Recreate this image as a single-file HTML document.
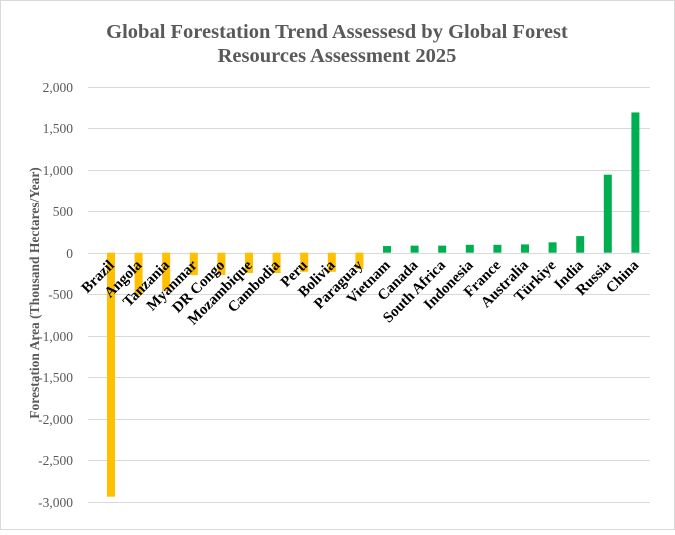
<!DOCTYPE html>
<html><head><meta charset="utf-8"><style>body{margin:0;background:#fff}</style></head><body>
<svg width="675" height="530" xmlns="http://www.w3.org/2000/svg" font-family="Liberation Serif, serif">
<rect x="0.5" y="0.5" width="674" height="529" fill="#fff" stroke="#d9d9d9"/>
<text x="337" y="38" text-anchor="middle" font-size="20.5" font-weight="bold" fill="#595959">Global Forestation Trend Assessesd by Global Forest</text>
<text x="337" y="62" text-anchor="middle" font-size="20.5" font-weight="bold" fill="#595959">Resources Assessment 2025</text>
<g id="grid" stroke="#d9d9d9" stroke-width="1"></g>
<g id="yl" font-size="13.5" fill="#595959" text-anchor="end"></g>
<text transform="translate(39,293) rotate(-90)" text-anchor="middle" font-size="13.5" font-weight="bold" fill="#595959">Forestation Area (Thousand Hectares/Year)</text>
<g id="bars"></g>
<g id="lab" font-size="15" font-weight="bold" fill="#000" text-anchor="end"></g>
</svg>
<script>
const ns="http://www.w3.org/2000/svg";
const z=252.7,k=41.5/500;
const g=document.getElementById('grid'),yl=document.getElementById('yl');
for(let v=2000;v>=-3000;v-=500){const y=Math.round(z-v*k)+0.5;
 const l=document.createElementNS(ns,'line');l.setAttribute('x1',88);l.setAttribute('x2',650);l.setAttribute('y1',y);l.setAttribute('y2',y);g.appendChild(l);
 const t=document.createElementNS(ns,'text');t.setAttribute('x',73);t.setAttribute('y',y+4.5);t.textContent=v.toLocaleString('en-US');yl.appendChild(t);}
const d=[["Brazil",-2940],["Angola",-510],["Tanzania",-460],["Myanmar",-270],["DR Congo",-270],["Mozambique",-245],["Cambodia",-245],["Peru",-230],["Bolivia",-230],["Paraguay",-195],["Vietnam",80],["Canada",85],["South Africa",85],["Indonesia",95],["France",95],["Australia",100],["Türkiye",125],["India",200],["Russia",940],["China",1690]];
const b=document.getElementById('bars'),lb=document.getElementById('lab');
d.forEach((e,i)=>{const cx=111+i*27.6,v=e[1];
 const r=document.createElementNS(ns,'rect');r.setAttribute('x',cx-4);r.setAttribute('width',8);
 const y1=z,y2=z-v*k;r.setAttribute('y',Math.min(y1,y2));r.setAttribute('height',Math.abs(y2-y1));
 r.setAttribute('fill',v<0?'#ffc000':'#00b050');b.appendChild(r);
 const t=document.createElementNS(ns,'text');t.setAttribute('transform',`translate(${cx+4},${266}) rotate(-45)`);t.textContent=e[0];lb.appendChild(t);});
</script>
</body></html>
